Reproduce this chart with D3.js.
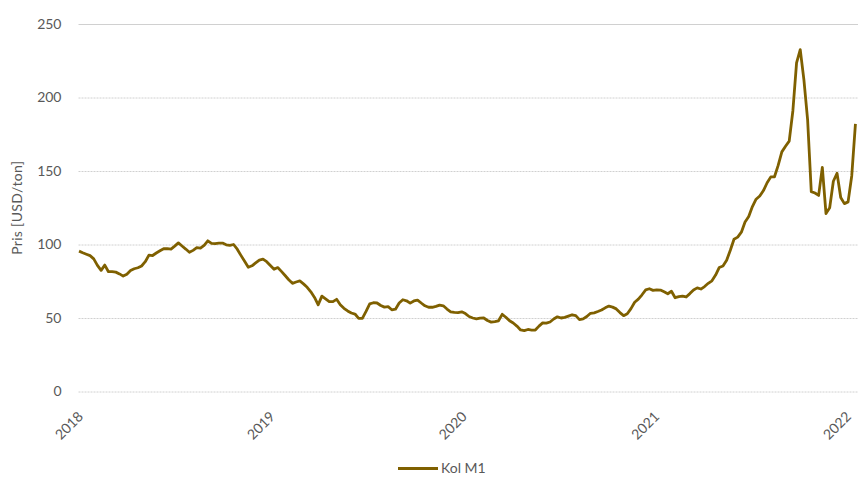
<!DOCTYPE html>
<html>
<head>
<meta charset="utf-8">
<script src="https://cdn.jsdelivr.net/npm/d3@7"></script>
<style>
  html, body { margin: 0; padding: 0; background: #fff; }
  svg { display: block; }
  text { font-family: Lato, "Open Sans", sans-serif; fill: #595959; }
</style>
</head>
<body>
<svg id="chart" width="858" height="477"></svg>
<script>
// ---- data (weekly Kol M1 price, USD/ton) ----
const seriesName = "Kol M1";
const yAxisTitle = "Pris [USD/ton]";
const startDate = "2018-01-02";
const yearLabels = ["2018", "2019", "2020", "2021", "2022"];
const yTicks = [0, 50, 100, 150, 200, 250];
const prices = [
  95.5, 94.4, 93.4, 92.4, 90.2, 85.8, 82.4, 86.0, 81.5, 81.5,
  81.2, 80.0, 78.5, 79.8, 82.3, 83.5, 84.2, 85.4, 88.3, 92.8,
  92.5, 94.2, 95.7, 97.1, 97.2, 96.9, 98.9, 101.1, 99.0, 96.9,
  94.7, 96.0, 97.8, 97.5, 99.4, 102.5, 100.7, 100.6, 100.9, 101.0,
  99.8, 99.4, 100.0, 96.8, 92.6, 88.6, 84.5, 85.5, 87.5, 89.4,
  90.0, 88.3, 85.7, 83.1, 84.3, 81.7, 78.9, 76.0, 73.6, 74.5,
  75.2, 73.2, 70.9, 67.8, 64.0, 59.0, 64.9, 63.0, 61.1, 61.1,
  62.7, 59.0, 56.6, 54.8, 53.4, 52.7, 49.8, 49.8, 54.5, 59.6,
  60.4, 60.2, 58.5, 57.4, 57.7, 55.6, 56.0, 60.2, 62.4, 61.7,
  60.1, 61.6, 62.2, 60.2, 58.3, 57.3, 57.3, 57.9, 58.8, 58.3,
  56.1, 54.2, 53.8, 53.7, 54.2, 53.0, 51.0, 50.0, 49.4, 49.9,
  50.0, 48.3, 47.2, 47.6, 48.1, 52.5, 50.5, 48.1, 46.6, 44.5,
  41.9, 41.4, 42.2, 41.8, 41.8, 44.5, 46.7, 46.5, 47.3, 49.3,
  50.8, 50.0, 50.4, 51.3, 52.2, 51.6, 48.9, 49.4, 51.0, 53.2,
  53.5, 54.4, 55.4, 56.9, 58.1, 57.4, 56.2, 53.7, 51.6, 52.9,
  56.4, 60.7, 62.8, 65.8, 69.1, 69.9, 68.8, 69.2, 69.0, 67.8,
  66.5, 68.2, 63.8, 64.5, 64.9, 64.3, 66.6, 69.1, 70.5, 69.7,
  71.4, 73.6, 75.3, 79.2, 84.4, 85.4, 89.3, 96.1, 103.6, 105.0,
  108.4, 115.3, 119.1, 125.8, 130.8, 133.0, 136.7, 142.0, 146.0, 146.1,
  153.8, 163.0, 166.8, 170.3, 191.0, 223.6, 232.6, 212.0, 185.0, 136.0,
  135.0, 133.4, 152.5, 121.0, 125.0, 143.0, 148.5, 132.0, 127.8, 129.0,
  146.8, 182.0
];

// ---- layout ----
const svg = d3.select("#chart");
const plotLeft = 78.5, plotRight = 858, plotTop = 24, plotBottom = 391.5;
const lineColor = "#7f6000";

const parse = d3.timeParse("%Y-%m-%d");
const start = parse(startDate);
const data = prices.map((v, i) => ({ date: d3.timeDay.offset(start, 7 * i), value: v }));
const yearDates = yearLabels.map(y => new Date(+y, 0, 1));

const x = d3.scaleTime()
  .domain([yearDates[0], yearDates[yearDates.length - 1]])
  .range([plotLeft, 846.5]);
const y = d3.scaleLinear().domain([0, 250]).range([plotBottom, plotTop]);

// y axis with gridlines
const yAxis = svg.append("g")
  .attr("transform", `translate(${plotLeft},0)`)
  .call(d3.axisLeft(y).tickValues(yTicks).tickSize(-(plotRight - plotLeft)).tickPadding(17));
yAxis.select(".domain").remove();
yAxis.selectAll(".tick line")
  .attr("stroke", "#d0d0d0")
  .attr("stroke-width", 1)
  .attr("stroke-dasharray", d => d === 250 ? null : "2,1");
yAxis.selectAll(".tick text")
  .style("font-size", "14px")
  .style("fill", "#595959");

// x axis
const xAxis = svg.append("g")
  .attr("transform", `translate(0,${plotBottom})`)
  .call(d3.axisBottom(x).tickValues(yearDates).tickSize(0).tickFormat(d3.timeFormat("%Y")));
xAxis.select(".domain").remove();
xAxis.selectAll(".tick text")
  .style("font-size", "14px")
  .style("fill", "#595959")
  .attr("text-anchor", "end")
  .attr("y", 0)
  .attr("dy", 0)
  .attr("transform", "translate(5,26) rotate(-45)");

// y axis title
svg.append("text")
  .attr("transform", `translate(22,${(plotTop + plotBottom) / 2}) rotate(-90)`)
  .attr("text-anchor", "middle")
  .style("font-size", "14px")
  .style("letter-spacing", "0.3px")
  .text(yAxisTitle);

// line
const line = d3.line().x(d => x(d.date)).y(d => y(d.value));
svg.append("path")
  .datum(data)
  .attr("fill", "none")
  .attr("stroke", lineColor)
  .attr("stroke-width", 2.8)
  .attr("stroke-linejoin", "round")
  .attr("d", line);

// legend
const legend = svg.append("g").attr("transform", "translate(398,468.5)");
legend.append("line")
  .attr("x1", 0).attr("x2", 40).attr("y1", 0).attr("y2", 0)
  .attr("stroke", lineColor).attr("stroke-width", 2.8);
legend.append("text")
  .attr("x", 43).attr("y", 4.5)
  .style("font-size", "14px")
  .text(seriesName);
</script>
</body>
</html>
